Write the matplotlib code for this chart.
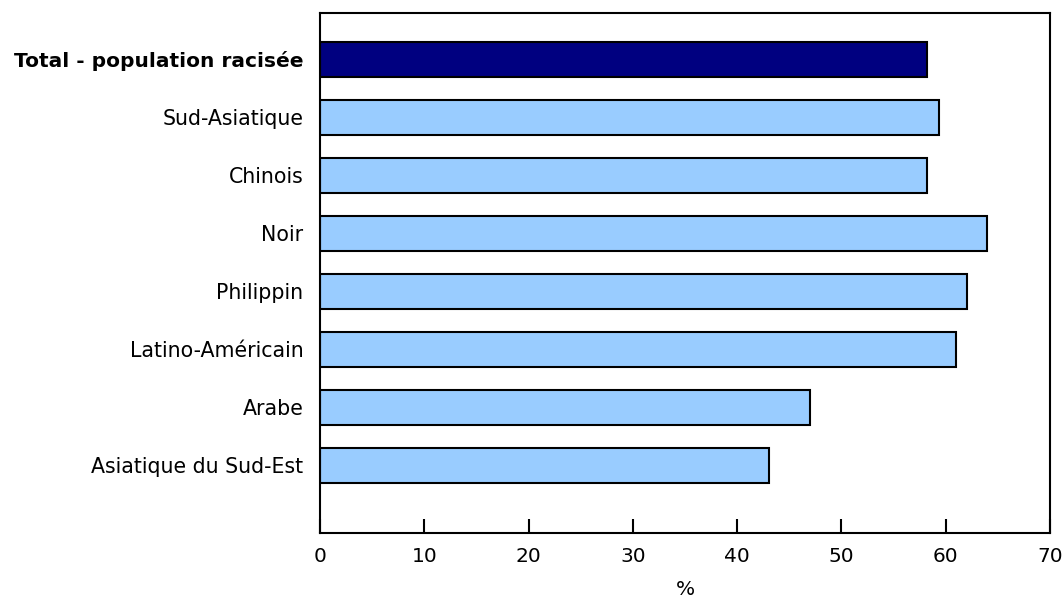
import numpy as np
import matplotlib.pyplot as plt

# Catégories et valeurs (%)
categories = ['Total - population racisée', 'Sud-Asiatique', 'Chinois', 'Noir',
              'Philippin', 'Latino-Américain', 'Arabe', 'Asiatique du Sud-Est']
values = [58.2, 59.4, 58.2, 64.0, 62.0, 61.0, 47.0, 43.1]
xticks = [0, 10, 20, 30, 40, 50, 60, 70]

colors = ['#000080'] + ['#99CCFF'] * (len(categories) - 1)

fig = plt.figure(figsize=(10.64, 6.02), dpi=100)
ax = fig.add_axes([0.3008, 0.1146, 0.686, 0.8638])

y = np.arange(len(categories))
ax.barh(y, values, height=0.6, color=colors, edgecolor='black', linewidth=1.5)

ax.set_xlim(0, 70)
ax.set_ylim(8.17, -0.8)
ax.set_xticks(xticks)
ax.set_xticklabels([str(t) for t in xticks], fontsize=14.5)
ax.set_yticks(y)
ax.set_yticklabels(categories, fontsize=14.8)
ax.get_yticklabels()[0].set_fontweight('bold')
ax.get_yticklabels()[0].set_fontsize(14.5)

ax.tick_params(axis='x', direction='in', length=10, width=1.5, pad=10)
ax.tick_params(axis='y', length=0, pad=12)
for s in ax.spines.values():
    s.set_linewidth(1.5)

ax.set_xlabel('%', fontsize=14.5, labelpad=10)

fig.savefig('out.png', dpi=100)
